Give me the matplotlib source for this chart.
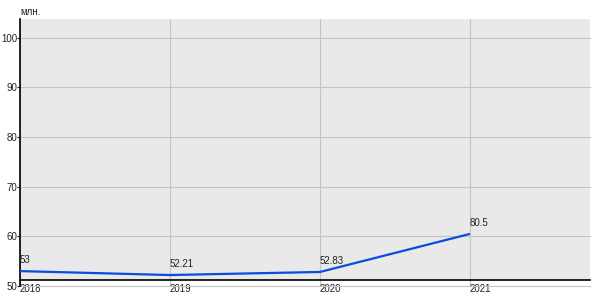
import matplotlib.pyplot as plt
import numpy as np

plt.rcParams['font.family'] = ['Liberation Sans', 'DejaVu Sans']

years = [2018, 2019, 2020, 2021]
values = [53, 52.21, 52.83, 60.5]
labels = ["53", "52.21", "52.83", "80.5"]
yticks = [50, 60, 70, 80, 90, 100]

line_color = "#0a4be0"
bg_color = "#e9e9e9"
axis_y = 51.15  # the black baseline sits a bit above 50

fig = plt.figure(figsize=(6, 3), dpi=100)
ax = fig.add_axes([20 / 600, 14 / 300, 570 / 600, 267 / 300])
ax.set_facecolor("none")

for s in ["top", "right"]:
    ax.spines[s].set_visible(False)
for s in ["left", "bottom"]:
    ax.spines[s].set_color("black")
    ax.spines[s].set_linewidth(1.2)
ax.spines["bottom"].set_position(("data", axis_y))

ax.set_xlim(2018, 2021.8)
ax.set_ylim(50, 103.8)
ax.axhspan(axis_y, 103.8, color=bg_color, zorder=0, lw=0)

ax.plot(years, values, color=line_color, lw=1.6, solid_capstyle="butt", zorder=3)
for x, y, t in zip(years, values, labels):
    ax.annotate(t, (x, y), xytext=(0, 4.5), textcoords="offset points",
                ha="left", va="bottom", fontsize=7, color="#222222")

ax.set_xticks(years)
ax.set_xticklabels([str(y) for y in years], ha="left", fontsize=7)
ax.set_yticks(yticks)
ax.set_yticklabels([str(v) for v in yticks], fontsize=7)
ax.grid(True, color="#c4c4c4", lw=0.8)
ax.set_axisbelow(True)
for gl in ax.get_ygridlines():
    gl.set_clip_on(False)

ax.tick_params(axis="y", length=2, width=0.8, pad=0, colors="#222222")
ax.tick_params(axis="x", length=0, pad=3, colors="#222222")

fig.text(20 / 600, 1 - 12 / 300, "млн.", fontsize=7, color="#222222", va="center")

fig.savefig("out.png", dpi=100)
